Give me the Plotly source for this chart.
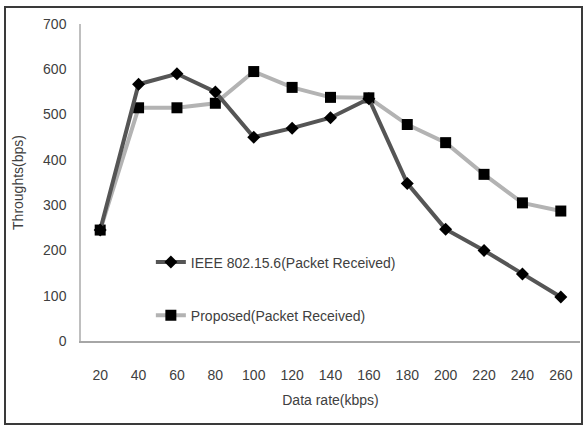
import plotly.graph_objects as go

categories = ["20", "40", "60", "80", "100", "120", "140", "160", "180", "200", "220", "240", "260"]
ieee = [245, 567, 590, 550, 450, 470, 493, 535, 348, 247, 200, 148, 97]
proposed = [245, 515, 515, 525, 595, 560, 538, 537, 478, 438, 368, 305, 287]
y_ticks = [0, 100, 200, 300, 400, 500, 600, 700]

FONT = "Liberation Sans Narrow, Arial Narrow, Liberation Sans, sans-serif"
TXT = "#404040"

fig = go.Figure()
fig.add_trace(go.Scatter(
    x=categories, y=proposed, mode="lines+markers",
    name="Proposed(Packet Received)",
    line=dict(color="#b3b3b3", width=4),
    marker=dict(symbol="square", size=11, color="#000000"),
    legendgroup="b", legendrank=2,
))
fig.add_trace(go.Scatter(
    x=categories, y=ieee, mode="lines+markers",
    name="IEEE 802.15.6(Packet Received)",
    line=dict(color="#555555", width=4),
    marker=dict(symbol="diamond", size=10, color="#000000"),
    legendgroup="a", legendrank=1,
))

fig.update_layout(
    width=585, height=429,
    margin=dict(l=81, r=5, t=24, b=88),
    paper_bgcolor="white", plot_bgcolor="white",
    font=dict(family=FONT, size=14, color=TXT),
    showlegend=True,
    legend=dict(
        x=0.14, y=0.164, xanchor="left", yanchor="middle",
        bgcolor="rgba(0,0,0,0)", traceorder="grouped", tracegroupgap=32,
        font=dict(family=FONT, size=14, color=TXT),
    ),
    xaxis=dict(
        type="category", range=[-0.5, 12.5],
        showline=True, linecolor="#a6a6a6", linewidth=1.5,
        showgrid=False, ticks="", ticklabelstandoff=20,
        tickfont=dict(family=FONT, size=14, color=TXT),
        title=dict(text="Data rate(kbps)", standoff=14,
                   font=dict(family=FONT, size=14, color=TXT)),
        zeroline=False, fixedrange=True,
    ),
    yaxis=dict(
        range=[0, 700], tickvals=y_ticks,
        showline=True, linecolor="#bfbfbf", linewidth=1.5,
        showgrid=False, ticks="", ticklabelstandoff=10,
        tickfont=dict(family=FONT, size=14, color=TXT),
        title=dict(text="Throughts(bps)", standoff=16,
                   font=dict(family=FONT, size=14, color=TXT)),
        zeroline=False, fixedrange=True,
    ),
    shapes=[dict(
        type="rect", xref="paper", yref="paper",
        x0=-76/499, x1=(582-81)/499, y0=-(424-341)/317, y1=(341-7)/317,
        line=dict(color="#3a3a3a", width=2), fillcolor="rgba(0,0,0,0)",
        layer="below",
    )],
)

fig.write_html("out.html")
